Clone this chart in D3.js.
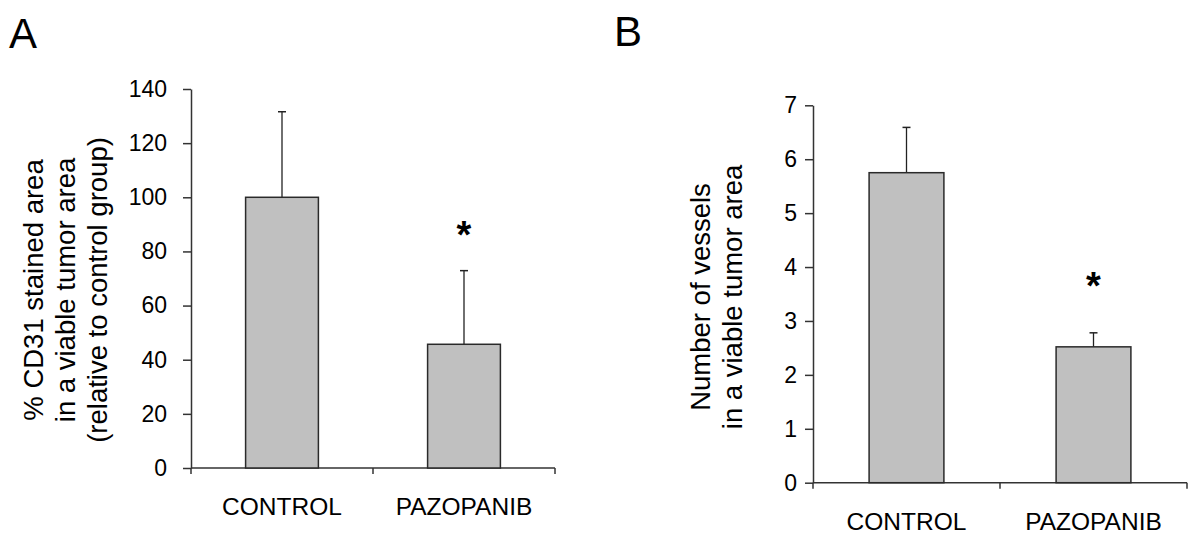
<!DOCTYPE html>
<html>
<head>
<meta charset="utf-8">
<script src="https://cdn.jsdelivr.net/npm/d3@7"></script>
<style>
  html, body { margin: 0; padding: 0; background: #fff; }
  svg { display: block; font-family: "Liberation Sans", Arial, sans-serif; }
</style>
</head>
<body>
<svg id="chart" width="1200" height="542"></svg>
<script>
// ---- data ----
const categories = ["CONTROL", "PAZOPANIB"];

const panelATicks = [0, 20, 40, 60, 80, 100, 120, 140];
const panelAMeans = [100, 45.7];
const panelAErrTop = [131.6, 72.9];
const panelAStar = [null, 89];
const panelATitle = ["% CD31 stained area", "in a viable tumor area", "(relative to control group)"];

const panelBTicks = [0, 1, 2, 3, 4, 5, 6, 7];
const panelBMeans = [5.75, 2.52];
const panelBErrTop = [6.59, 2.78];
const panelBStar = [null, 3.81];
const panelBTitle = ["Number of vessels", "in a viable tumor area"];

const svg = d3.select("#chart");
const FONT = '"Liberation Sans", Arial, sans-serif';
const AXIS_COLOR = "#333333";

function drawPanel(opts) {
  const { letter, letterX, letterY, xRange, yRange, yMax, ticks, means, errTop, star,
          title, titleX, titleY, tickPadding, catBaselineOffset } = opts;

  const x = d3.scaleBand().domain(categories).range(xRange).paddingInner(0.6).paddingOuter(0.3);
  const y = d3.scaleLinear().domain([0, yMax]).range(yRange);
  const g = svg.append("g");

  // panel letter
  g.append("text").attr("x", letterX).attr("y", letterY)
    .attr("font-size", 42).attr("font-family", FONT).attr("fill", "#000").text(letter);

  // y axis
  const yAxis = d3.axisLeft(y).tickValues(ticks).tickSize(8).tickSizeOuter(0)
    .tickPadding(tickPadding).tickFormat(d3.format("d"));
  const ga = g.append("g").attr("transform", `translate(${xRange[0]},0)`).call(yAxis);
  ga.attr("font-size", null).attr("font-family", null);
  ga.selectAll("path, line").attr("stroke", AXIS_COLOR).attr("stroke-width", 1.5);
  ga.selectAll("text").attr("font-size", 23).attr("font-family", FONT).attr("fill", "#000");

  // x axis baseline with ticks at band boundaries
  const y0 = y(0);
  const mid = (x(categories[0]) + x.bandwidth() + x(categories[1])) / 2;
  const bounds = [xRange[0], mid, xRange[1]];
  g.append("line").attr("x1", xRange[0]).attr("x2", xRange[1]).attr("y1", y0).attr("y2", y0)
    .attr("stroke", AXIS_COLOR).attr("stroke-width", 1.5);
  g.selectAll(".xt").data(bounds).join("line")
    .attr("x1", d => d).attr("x2", d => d).attr("y1", y0).attr("y2", y0 + 6)
    .attr("stroke", AXIS_COLOR).attr("stroke-width", 1.5);

  // error bars (drawn first so bar covers the stem base)
  const capW = 8;
  categories.forEach((c, i) => {
    const cx = x(c) + x.bandwidth() / 2;
    g.append("line").attr("x1", cx).attr("x2", cx).attr("y1", y(means[i])).attr("y2", y(errTop[i]))
      .attr("stroke", "#222").attr("stroke-width", 1.3);
    g.append("line").attr("x1", cx - capW / 2).attr("x2", cx + capW / 2)
      .attr("y1", y(errTop[i])).attr("y2", y(errTop[i]))
      .attr("stroke", "#222").attr("stroke-width", 1.5);
  });

  // bars
  g.selectAll(".bar").data(means).join("rect")
    .attr("x", (d, i) => x(categories[i]))
    .attr("y", d => y(d))
    .attr("width", x.bandwidth())
    .attr("height", d => y(0) - y(d))
    .attr("fill", "#c0c0c0").attr("stroke", "#2a2a2a").attr("stroke-width", 1.5);

  // significance stars
  star.forEach((s, i) => {
    if (s == null) return;
    g.append("text").attr("x", x(categories[i]) + x.bandwidth() / 2).attr("y", y(s))
      .attr("text-anchor", "middle").attr("dy", "0.56em")
      .attr("font-size", 38).attr("font-weight", "bold").attr("font-family", FONT)
      .attr("fill", "#000").text("*");
  });

  // category labels
  g.selectAll(".cat").data(categories).join("text")
    .attr("x", d => x(d) + x.bandwidth() / 2)
    .attr("y", y0 + catBaselineOffset)
    .attr("text-anchor", "middle").attr("font-size", 24.5).attr("font-family", FONT)
    .attr("fill", "#000").text(d => d);

  // y title (rotated, multi-line)
  title.forEach((t, i) => {
    g.append("text")
      .attr("transform", `translate(${titleX[i]},${titleY}) rotate(-90)`)
      .attr("text-anchor", "middle").attr("font-size", 27.5).attr("font-family", FONT)
      .attr("fill", "#000").text(t);
  });
}

drawPanel({
  letter: "A", letterX: 9, letterY: 48,
  xRange: [191, 555], yRange: [468, 89], yMax: 140, ticks: panelATicks,
  means: panelAMeans, errTop: panelAErrTop, star: panelAStar,
  title: panelATitle, titleX: [43, 75, 107], titleY: 290,
  tickPadding: 16, catBaselineOffset: 47
});

drawPanel({
  letter: "B", letterX: 614, letterY: 46,
  xRange: [813, 1187], yRange: [482.7, 105.3], yMax: 7, ticks: panelBTicks,
  means: panelBMeans, errTop: panelBErrTop, star: panelBStar,
  title: panelBTitle, titleX: [710, 742], titleY: 297,
  tickPadding: 8, catBaselineOffset: 47
});
</script>
</body>
</html>
